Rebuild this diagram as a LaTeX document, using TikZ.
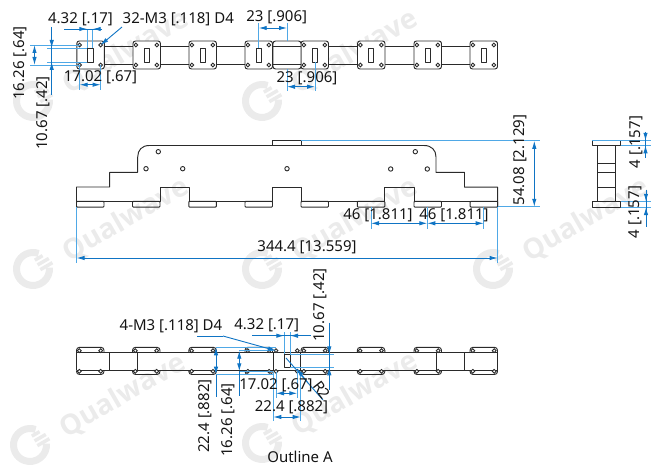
\documentclass[tikz,border=0pt]{standalone}
\usepackage{fontspec}
\setmainfont{Noto Sans}
\newfontfamily\wmf{Open Sans}
\usetikzlibrary{arrows.meta}
\definecolor{wm}{HTML}{EBEBEB}
\definecolor{ext}{HTML}{4FA8E6}
\definecolor{dimc}{HTML}{0F74C4}
\definecolor{ink}{HTML}{2A2A2A}
\tikzset{
 part/.style={draw=ink,line width=0.95pt,line join=round},
 hole/.style={draw=ink,fill=white,line width=0.9pt},
 extl/.style={draw=ext,line width=0.9pt},
 diml/.style={draw=dimc,line width=0.9pt},
 tipb/.style={-{Latex[length=8pt,width=4.4pt,fill=dimc]}},
 both/.style={{Latex[length=8pt,width=4.4pt,fill=dimc]}-{Latex[length=8pt,width=4.4pt,fill=dimc]}},
 lab/.style={font=\fontsize{15}{15}\selectfont,text=black!92,inner sep=0pt,anchor=center},
}
\newcommand\wmark[2]{%
 \begin{scope}[shift={(#1,#2)},rotate=30]
  \draw[wm,line width=7pt] (0,0) ++(40:16.5pt) arc[start angle=40,end angle=335,radius=16.5pt];
  \fill[wm] (6,-8.5) -- (15,-8.5) -- (15,-5) -- (6,-5) -- cycle;
  \fill[wm] (6,-3) -- (19,-3) -- (19,0.5) -- (6,0.5) -- cycle;
  \fill[wm] (6,2.5) -- (20,2.5) -- (20,6) -- (6,6) -- cycle;
  \node[font=\fontsize{28}{28}\wmf\bfseries\selectfont,text=wm,inner sep=0pt,anchor=west,rotate=30] at (35,4) {Qualwave};
 \end{scope}}
\begin{document}
\begin{tikzpicture}[x=1pt,y=-1pt]
\useasboundingbox (0,0) rectangle (651,465);
% watermark
\begin{scope}
\clip (0,0) rectangle (651,465);
\wmark{33}{101}\wmark{262}{101}\wmark{33}{269}\wmark{262}{269}\wmark{493}{269}\wmark{30}{445}\wmark{262}{443}
\end{scope}
% top view
\draw[part] (104,46) -- (470,46) (104,64) -- (470,64);
\foreach \x in {76.8,133,189,245,301,357.5,414,470}{
 \draw[part,fill=white,rounded corners=2.5pt] (\x,41) rectangle ++(27.5,28);
 \draw[part,fill=white] (\x+11,48) rectangle ++(5.4,14);
 \foreach \u in {2.8,23.8}\foreach \v in {45,65}
  \draw[hole] (\x+\u,\v) circle (1.9pt);
}
\draw[part,fill=white,rounded corners=2.5pt] (273,41) rectangle ++(28,28);
\draw[part] (273,46) -- (301,46) (273,64) -- (301,64);
% main view
\draw[part] (76.5,207) -- (76.5,187) -- (109.7,187) -- (109.7,172.3) -- (137.7,172.3) -- (137.7,157)
 .. controls (137.7,150) and (142,145.5) .. (149.3,145.5) -- (424,145.5)
 .. controls (431.5,145.5) and (436,150) .. (436,157) -- (436,172.3) -- (464.5,172.3) -- (464.5,187.2) -- (497.7,187.2) -- (497.7,207);
\draw[part] (76.5,201.3) -- (160,201.3) -- (160,187) -- (189,187) -- (189,201.3) -- (272.4,201.3) -- (272.4,187) -- (301,187) -- (301,201.3) -- (384.7,201.3) -- (384.7,187) -- (414,187) -- (414,201.3) -- (497.7,201.3);
\foreach \x in {76.5,132.5,188.8,245,301,357.3,414,470.2}
 \draw[part,rounded corners=0.8pt] (\x,201.3) rectangle ++(27.5,5.8);
\draw[part] (272.6,145.5) -- (272.6,140.9) -- (301,140.9) -- (301,145.5);
\foreach \p in {(158.3,151.7),(146,168.7),(182.7,168.7),(287,168.7),(415.3,151.7),(390.7,169),(427.3,169)}
 \draw[hole] \p circle (2.2pt);
% side view
\draw[part] (597.3,145.3) -- (597.3,201.7) (615.3,145.3) -- (615.3,201.7) (597.3,163.3) -- (615.3,163.3) (597.3,172) -- (615.3,172) (597.3,187.3) -- (615.3,187.3);
\draw[part] (592.4,140.9) rectangle (620.7,145.3);
\draw[part] (592.4,201.9) rectangle (620.7,207.1);
% bottom view
\draw[part] (76.5,352.3) -- (497.5,352.3) (76.5,370.3) -- (497.5,370.3);
\foreach \x in {76.5,109.5,137.7,273.3,300.7,436,464.5,497.5}
 \draw[part] (\x,352.3) -- (\x,370.3);
\draw[part] (284.3,354.3) rectangle (290,367.3);
\foreach \x in {76.5,132.5,188.8,245,301,357.3,414,470}{
 \draw[part,rounded corners=3pt] (\x,352.3) -- (\x,347.3) -- (\x+27.5,347.3) -- (\x+27.5,352.3);
 \draw[part,rounded corners=3pt] (\x,370.3) -- (\x,374.5) -- (\x+27.5,374.5) -- (\x+27.5,370.3);
 \foreach \u in {2.8,24.2}\foreach \v in {350.7,371.3}
  \draw[hole] (\x+\u,\v) circle (1.9pt);
}
\foreach \u in {276,297.3}\foreach \v in {350.7,371.3}
  \draw[hole] (\u,\v) circle (1.9pt);
% extension lines
\draw[extl] (87.3,29) -- (87.3,48) (92.7,29) -- (92.7,48)
 (30,45) -- (79.6,45) (30,65) -- (79.6,65) (47,48) -- (87.3,48) (47,62) -- (87.3,62)
 (79.6,65) -- (79.6,90) (100.6,65) -- (100.6,90)
 (258.7,23) -- (258.7,48) (287,23) -- (287,41) (287,69) -- (287,91) (315,62) -- (315,91);
\draw[extl] (301,140.8) -- (540,140.8) (498,206.8) -- (540,206.8)
 (371,207) -- (371,229) (427.3,207) -- (427.3,229) (483.7,207) -- (483.7,229)
 (76.5,207) -- (76.5,263) (497.7,207) -- (497.7,263)
 (592,140.8) -- (651,140.8) (620.7,145.3) -- (651,145.3) (620.7,201.8) -- (651,201.8) (620.7,207.1) -- (651,207.1);
\draw[extl] (216,347.3) -- (276,347.3) (216,374.6) -- (273.3,374.6) (239.3,350.7) -- (273,350.7) (239.3,371.3) -- (273,371.3)
 (284.3,332) -- (284.3,354.3) (290,332) -- (290,354.3) (290,354.3) -- (334,354.3) (290,367.3) -- (334,367.3)
 (276,372) -- (276,398) (297.3,372) -- (297.3,398) (273.3,372) -- (273.3,421) (300.7,372) -- (300.7,421);
% dimension lines
\draw[diml] (64,29) -- (102,29);
\draw[diml,tipb] (72,29) -- (87.3,29);
\draw[diml,tipb] (102,29) -- (92.7,29);
\draw[diml,tipb] (122,27) -- (100.6,45);
\draw[diml,both] (34.5,45) -- (34.5,65);
\draw[diml] (51.7,27) -- (51.7,95);
\draw[diml,tipb] (51.7,36) -- (51.7,48);
\draw[diml,tipb] (51.7,74) -- (51.7,62);
\draw[diml,both] (79.6,84.7) -- (100.6,84.7);
\draw[diml,both] (258.7,28) -- (287,28);
\draw[diml,both] (287,86.7) -- (315,86.7);
\draw[diml,both] (534.3,140.8) -- (534.3,206.8);
\draw[diml,both] (371,223.3) -- (427.3,223.3);
\draw[diml,both] (427.3,223.3) -- (483.7,223.3);
\draw[diml,both] (76.5,258) -- (497.7,258);
\draw[diml] (645.5,132) -- (645.5,158);
\draw[diml,tipb] (645.5,132) -- (645.5,140.8);
\draw[diml,tipb] (645.5,155) -- (645.5,145.3);
\draw[diml] (646,190) -- (646,227);
\draw[diml,tipb] (646,191) -- (646,201.8);
\draw[diml,tipb] (646,218) -- (646,207.1);
\draw[diml] (197,336) -- (223,336);
\draw[diml,tipb] (223,336) -- (276,350.7);
\draw[diml] (252.3,335.7) -- (310.7,335.7);
\draw[diml,tipb] (270,335.7) -- (284.3,335.7);
\draw[diml,tipb] (304,335.7) -- (290,335.7);
\draw[diml] (329.3,322.7) -- (329.3,390);
\draw[diml,tipb] (329.3,340) -- (329.3,354.3);
\draw[diml,tipb] (329.3,381) -- (329.3,367.3);
\draw[diml,both] (216,347.3) -- (216,374.6);
\draw[diml] (216,374.6) -- (216,397);
\draw[diml,both] (239.3,350.7) -- (239.3,371.3);
\draw[diml] (239.3,371.3) -- (239.3,396);
\draw[diml,both] (276,393.3) -- (297.3,393.3);
\draw[diml,both] (273.3,417) -- (300.7,417);
\draw[diml] (286,358) -- (323,400);
\draw[diml,tipb] (308,383) -- (296.7,368.5);
% labels
\node[lab] (a1) at (80.5,19) {4.32 [.17]};
\node[lab,anchor=west] (a2) at (122.5,19) {32-M3 [.118] D4};
\node[lab,rotate=90] (a3) at (20,63) {16.26 [.64]};
\node[lab,rotate=90] (a4) at (43,113) {10.67 [.42]};
\node[lab] (a5) at (100.5,77) {17.02 [.67]};
\node[lab] (a6) at (276.7,17) {23 [.906]};
\node[lab] (a7) at (307,78.7) {23 [.906]};
\node[lab,rotate=90] (b1) at (520,160) {54.08 [2.129]};
\node[lab] (b2) at (378,215.7) {46 [1.811]};
\node[lab] (b3) at (454,215.7) {46 [1.811]};
\node[lab] (b4) at (307,247.7) {344.4 [13.559]};
\node[lab,rotate=90] (c1) at (636,142) {4 [.157]};
\node[lab,rotate=90] (c2) at (635,212) {4 [.157]};
\node[lab] (d1) at (171,326.7) {4-M3 [.118] D4};
\node[lab] (d2) at (266.7,325) {4.32 [.17]};
\node[lab,rotate=90] (d3) at (320.5,305) {10.67 [.42]};
\node[lab,rotate=90] (d4) at (205,416) {22.4 [.882]};
\node[lab,rotate=90] (d5) at (228,420) {16.26 [.64]};
\node[lab] (d6) at (276,385) {17.02 [.67]};
\node[lab] (d7) at (291.5,407) {22.4 [.882]};
\node[lab,rotate=-52] (d8) at (322,390) {R2};
\node[lab] (d9) at (300,456.7) {Outline A};
\end{tikzpicture}
\end{document}
